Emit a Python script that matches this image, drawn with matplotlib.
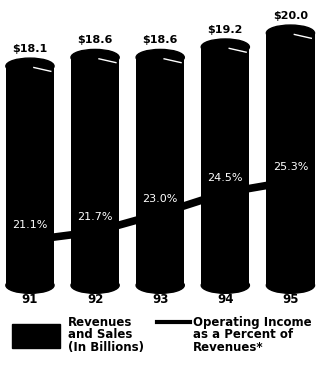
import matplotlib.pyplot as plt
from matplotlib.patches import Ellipse, Rectangle
from matplotlib.lines import Line2D

years = ["91", "92", "93", "94", "95"]
revenues = [18.1, 18.6, 18.6, 19.2, 20.0]
rev_labels = ["$18.1", "$18.6", "$18.6", "$19.2", "$20.0"]
op_pct = [21.1, 21.7, 23.0, 24.5, 25.3]
pct_labels = ["21.1%", "21.7%", "23.0%", "24.5%", "25.3%"]

fig = plt.figure(figsize=(3.23, 3.73), dpi=100)
ax = fig.add_axes([0, 0, 1, 1])
ax.set_xlim(-0.46, 4.5)
ax.set_ylim(0.46, 21.9)
ax.axis("off")

base = 5.5
w = 0.74
eh = 0.92
x = list(range(len(years)))
ax.bar(x, [r - base for r in revenues], bottom=base, width=w, color="black", zorder=2)
for i, r in enumerate(revenues):
    ax.add_patch(Ellipse((i, r), w, eh, color="black", zorder=2))
    ax.add_patch(Ellipse((i, base), w, eh, color="black", zorder=2))
    # white highlight on the cap
    ax.plot([i + 0.06, i + 0.32], [r - 0.08, r - 0.3], color="white", lw=1.0, zorder=3)
    ax.annotate(rev_labels[i], (i, r + eh / 2), xytext=(0, 3), textcoords="offset points",
                ha="center", va="bottom", fontsize=8, fontweight="heavy", zorder=4)
    ax.text(i, base - 0.8, years[i], ha="center", va="center", fontsize=8.5,
            fontweight="heavy")

ax2 = ax.twinx()
ax2.set_position([0, 0, 1, 1])
ax2.set_ylim(11.61, 38.26)
ax2.axis("off")
ax2.plot(x, op_pct, color="black", lw=5.5, solid_capstyle="butt", zorder=1)
for i, p in enumerate(op_pct):
    ax2.annotate(pct_labels[i], (i, p), xytext=(0, 7), textcoords="offset points",
                 ha="center", va="bottom", fontsize=8, color="white", zorder=5)

# legend
fig.patches.append(Rectangle((12 / 323, 1 - 348 / 373), 48 / 323, 24 / 373,
                             transform=fig.transFigure, color="black"))
fig.text(68 / 323, 1 - 316 / 373, "Revenues\nand Sales\n(In Billions)", ha="left", va="top",
         fontsize=8.5, fontweight="heavy", linespacing=0.95)
fig.lines.append(Line2D([157 / 323, 190 / 323], [1 - 322 / 373, 1 - 322 / 373],
                        transform=fig.transFigure, color="black", lw=3))
fig.text(193 / 323, 1 - 316 / 373, "Operating Income\nas a Percent of\nRevenues*", ha="left",
         va="top", fontsize=8.5, fontweight="heavy", linespacing=0.95)

fig.savefig("out.png", dpi=100)
